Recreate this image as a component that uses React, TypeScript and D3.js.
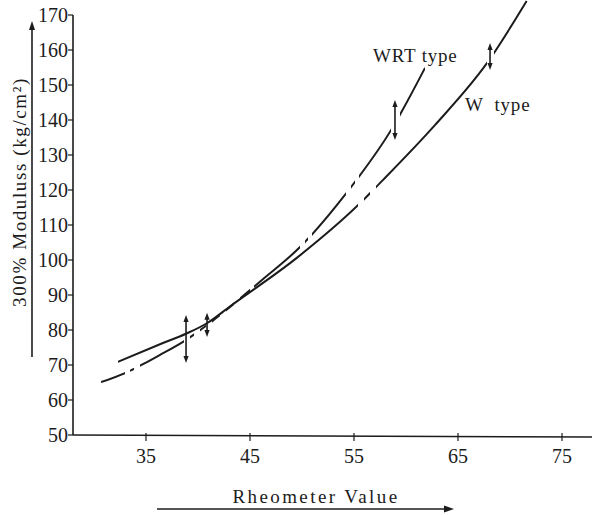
import React from 'react';
import * as d3 from 'd3';

// Axis ticks
const xTicks = [35, 45, 55, 65, 75];
const yTicks = [50, 60, 70, 80, 90, 100, 110, 120, 130, 140, 150, 160, 170];

// W type curve (Rheometer value, 300% modulus)
const wX = [32.3, 36.4, 38.9, 40.9, 43.1, 49.5, 55.4, 57.8, 62.8, 67.8, 71.6];
const wY = [70.9, 76.0, 79.0, 82.0, 86.8, 100.6, 115.7, 122.9, 138.6, 156.3, 174.0];
// visible (inked) ranges of the W curve along x
const wSegments: [number, number][] = [[32.3, 55.38], [55.96, 56.54], [57.12, 67.79], [68.46, 73]];

// WRT type curve
const wrtX = [30.67, 32.98, 36.35, 38.56, 40.87, 46.15, 49.81, 54.13, 58.56, 61.83];
const wrtY = [65.1, 67.7, 72.9, 76.6, 81.4, 94.3, 103.7, 118.6, 137.1, 154.9];
const wrtSegments: [number, number][] = [
  [30.67, 32.98], [33.46, 33.85], [34.42, 38.65], [39.23, 39.62], [40.19, 40.77],
  [41.35, 42.12], [42.69, 43.46], [44.04, 45.0], [45.38, 49.81], [50.29, 50.58],
  [50.96, 54.23], [54.71, 55.1], [55.48, 58.56], [59.42, 61.83],
];

// double-headed range arrows
const arrowX = [38.85, 40.87, 58.94, 68.08];
const arrowTop = [84.3, 84.9, 145.7, 162.0];
const arrowBottom = [70.6, 78.0, 134.3, 154.3];

const INK = '#1c1c1c';
const FONT = '"Liberation Serif", "Times New Roman", serif';

export default function App() {
  const W = 592, H = 515;
  const x = d3.scaleLinear().domain([35, 75]).range([146, 562]);
  const y = d3.scaleLinear().domain([50, 170]).range([435, 15]);
  const x0 = 73;
  const line = d3.line<[number, number]>()
    .x(d => x(d[0])).y(d => y(d[1]))
    .curve(d3.curveMonotoneX);
  const wPath = line(wX.map((v, i) => [v, wY[i]]) as [number, number][]) || '';
  const wrtPath = line(wrtX.map((v, i) => [v, wrtY[i]]) as [number, number][]) || '';

  const head = (cx: number, cy: number, dir: number, len = 7, half = 2.8) =>
    `M${cx},${cy} L${cx - half},${cy - dir * len} L${cx + half},${cy - dir * len} Z`;

  return (
    <svg width={W} height={H} style={{ position: 'absolute', left: 0, top: 0, background: '#fff' }}
      fontFamily={FONT}>
      <defs>
        {wSegments.map((s, i) => (
          <clipPath id={`w${i}`} key={`w${i}`}>
            <rect x={x(s[0])} y={0} width={x(s[1]) - x(s[0])} height={H} />
          </clipPath>
        ))}
        {wrtSegments.map((s, i) => (
          <clipPath id={`r${i}`} key={`r${i}`}>
            <rect x={x(s[0])} y={0} width={x(s[1]) - x(s[0])} height={H} />
          </clipPath>
        ))}
      </defs>

      {/* y axis */}
      <line x1={x0} x2={x0} y1={y(170)} y2={y(50)} stroke={INK} strokeWidth={1.6} />
      {yTicks.map(t => (
        <g key={t}>
          <line x1={x0 - 5} x2={x0} y1={y(t)} y2={y(t)} stroke={INK} strokeWidth={1.2} />
          <text x={x0 - 5} y={y(t)} dy="0.36em" textAnchor="end" fontSize={20} fill={INK}>{t}</text>
        </g>
      ))}

      {/* x axis */}
      <line x1={x0} x2={W} y1={y(50)} y2={y(50) + 2} stroke={INK} strokeWidth={1.6} />
      {xTicks.map(t => (
        <g key={t}>
          <line x1={x(t)} x2={x(t)} y1={y(50) - 2} y2={y(50) + 6} stroke={INK} strokeWidth={1.2} />
          <text x={x(t)} y={463} textAnchor="middle" fontSize={20} fill={INK}>{t}</text>
        </g>
      ))}

      {/* axis titles */}
      <text x={316} y={503} textAnchor="middle" fontSize={19} letterSpacing={2.4} fill={INK}>Rheometer Value</text>
      <line x1={157} x2={446} y1={509} y2={509} stroke={INK} strokeWidth={1.5} />
      <path d={`M454,509 L444,505.5 L444,512.5 Z`} fill={INK} />

      <text transform={`translate(26,192) rotate(-90)`} textAnchor="middle" fontSize={19} letterSpacing={1.6} fill={INK}>
        300% Moduluss (kg/cm²)
      </text>
      <line x1={32} x2={32} y1={357} y2={28} stroke={INK} strokeWidth={1.6} />
      <path d={head(32, 21, -1, 9, 3)} fill={INK} />

      {/* curves */}
      {wSegments.map((_, i) => (
        <path key={`wp${i}`} d={wPath} fill="none" stroke={INK} strokeWidth={2} clipPath={`url(#w${i})`} />
      ))}
      {wrtSegments.map((_, i) => (
        <path key={`rp${i}`} d={wrtPath} fill="none" stroke={INK} strokeWidth={2} clipPath={`url(#r${i})`} />
      ))}

      {/* range arrows */}
      {arrowX.map((ax, i) => {
        const px = x(ax), t = y(arrowTop[i]), b = y(arrowBottom[i]);
        return (
          <g key={`a${i}`}>
            <line x1={px} x2={px} y1={t + 4} y2={b - 4} stroke={INK} strokeWidth={1.6} />
            <path d={head(px, t, -1, 7, 2.6)} fill={INK} />
            <path d={head(px, b, 1, 7, 2.6)} fill={INK} />
          </g>
        );
      })}

      {/* labels */}
      <text x={373} y={62} fontSize={19} letterSpacing={0.8} fill={INK}>WRT type</text>
      <text x={465} y={111} fontSize={19} letterSpacing={0.8} fill={INK} xmlSpace="preserve">W  type</text>
    </svg>
  );
}
